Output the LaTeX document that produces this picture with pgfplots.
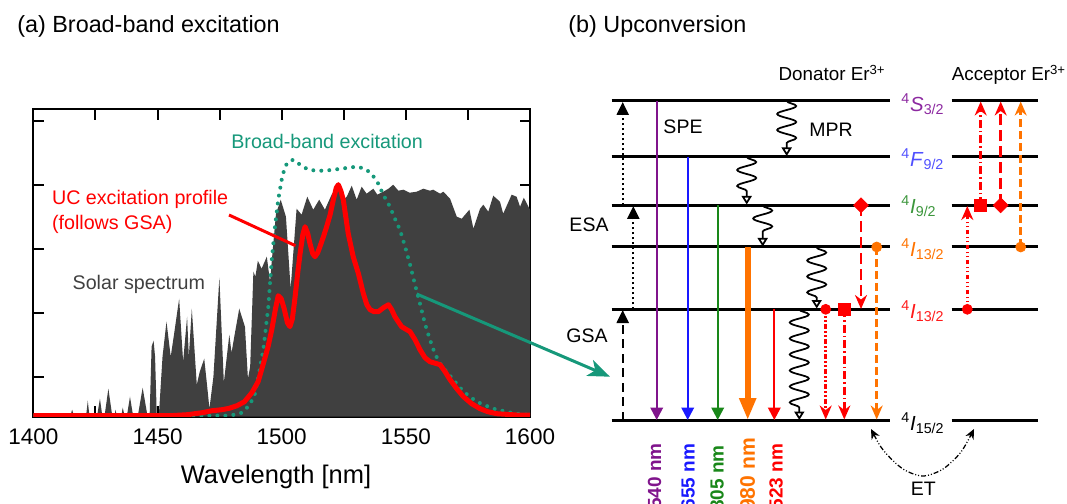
\documentclass[border=0pt]{standalone}
\usepackage{pgfplots}
\pgfplotsset{compat=1.18}
\usepackage{fontspec}
\setmainfont{Liberation Sans}
\usetikzlibrary{arrows.meta,decorations.pathmorphing}

\definecolor{spec}{RGB}{64,64,64}
\definecolor{tealc}{RGB}{22,152,122}
\definecolor{redc}{RGB}{255,0,0}
\definecolor{purpc}{RGB}{128,20,140}
\definecolor{bluec}{RGB}{25,25,255}
\definecolor{greenc}{RGB}{25,135,25}
\definecolor{orangec}{RGB}{255,115,0}
\definecolor{redl}{RGB}{255,25,25}
\definecolor{purpl}{RGB}{140,40,160}
\definecolor{bluel}{RGB}{80,80,255}
\definecolor{greenl}{RGB}{60,150,60}

\newcommand\fs[1]{\fontsize{#1pt}{#1pt}\selectfont}

\begin{document}
\begin{tikzpicture}
\useasboundingbox (0,0) rectangle (213.4mm,100.8mm);

% (a) spectrum panel, y in pixel heights above the baseline
\begin{axis}[
  at={(6.68mm,17.46mm)}, anchor=south west,
  width=99.32mm, height=61.48mm, scale only axis,
  xmin=1400, xmax=1600, ymin=0, ymax=307.4,
  xtick={1400,1425,...,1600},
  xticklabels={1400,,1450,,1500,,1550,,1600},
  ytick={39.4,103.4,167.4,231.4,295.4}, yticklabels={},
  axis line style={line width=0.4mm},
  tick style={line width=0.4mm, black},
  major tick length=2.1mm,
  x tick label style={font=\fs{12.8}, yshift=-1.2mm},
]
\addplot[fill=spec, draw=none] coordinates {
(1400,0) (1414.8,0) (1415.6,7) (1416.4,0) (1421.2,0) (1421.9,16) (1422.6,0)
(1425.6,0) (1426.8,18) (1427.8,0) (1428.6,0) (1430.2,28) (1431.8,0)
(1432.6,0) (1433.1,7) (1433.6,0) (1435.3,0) (1436,9) (1436.8,0)
(1437.6,0) (1438.9,20) (1440.2,0) (1442,0) (1444,29) (1446,0)
(1446.8,0) (1447.6,70) (1448.4,76) (1449,60) (1449.7,0) (1450.5,0)
(1452,60) (1453.6,95) (1455.3,60) (1456.5,80) (1458.7,118) (1460.3,55)
(1461.9,100) (1462.6,60) (1463.8,108) (1465.8,32) (1467,45) (1468.8,58)
(1470,30) (1470.9,8) (1472.5,40) (1474.9,139) (1476.7,34) (1478.9,82)
(1479.8,64) (1480.9,80) (1482.9,108) (1485.2,90) (1486.4,38) (1487.3,50)
(1488.6,145) (1489.4,140) (1490.4,156) (1491.9,148) (1494,160) (1495.3,135)
(1496.5,170) (1497.7,203) (1499.6,217) (1501.7,200) (1503.6,128) (1506,208)
(1508,202) (1510.3,220) (1512.7,207) (1515.1,217) (1517.4,207) (1520.1,222)
(1522.4,230) (1524.8,217) (1526.2,220) (1528.2,231) (1530.2,217) (1532.2,230)
(1534.2,223) (1536.9,228) (1538.5,222) (1540.9,225) (1543,228) (1544.9,232)
(1547,226) (1549,227) (1551.5,224) (1554.4,225) (1557,228) (1559.7,226)
(1561,227) (1563.8,223) (1565.1,225) (1567.8,218) (1570.5,200) (1572.5,198)
(1575.6,207) (1577.2,188) (1579.9,208) (1581.2,212) (1583.2,205) (1585.2,221)
(1587.9,215) (1589.2,203) (1592.6,222) (1594.6,220) (1596,210) (1597.5,219)
(1600,207)} \closedcycle;
% broad-band excitation (dotted)
\addplot[tealc, line width=0.8mm, line cap=round, dash pattern=on 0pt off 1.6mm] coordinates {
(1400,1) (1478,1) (1481,2) (1484,4) (1487.2,12) (1489.2,23) (1490.6,40)
(1492.6,67) (1494.6,110) (1496,157) (1497.3,190) (1498.6,217) (1500,237)
(1501.3,250) (1502.7,255) (1504.7,257) (1507.4,252) (1510.7,247) (1514.1,246)
(1517.4,246) (1520.8,247) (1524.2,248) (1526.8,249) (1530.2,250) (1533.5,248)
(1536.2,243) (1538.9,233) (1540.9,222) (1543.6,210) (1545.6,198) (1547.6,187)
(1549.7,170) (1551.7,152) (1553.7,132) (1555.7,113) (1557.7,93) (1559.7,77)
(1561.7,63) (1563.8,53) (1566.4,45) (1569.1,37) (1573.2,25) (1578.5,15)
(1585.2,8) (1593.3,3.4) (1600,1.7)};
% UC excitation profile
\addplot[redc, line width=1mm, line join=round] coordinates {
(1400,1) (1455,1) (1462,2) (1468,4) (1472,6) (1476,7) (1479,8.5) (1482,11)
(1485,15) (1488,24) (1490.5,35) (1492.6,53) (1494.5,70) (1496,87) (1497.5,108)
(1498.6,121) (1499.8,118) (1501,108) (1502.3,94) (1503.3,90) (1504.3,98)
(1505.4,120) (1506.5,145) (1507.4,163) (1508.5,182) (1509.4,190) (1510.5,183)
(1511.4,173) (1512.5,163) (1513.4,160) (1514.5,164) (1515.4,170) (1516.8,180)
(1518.1,190) (1519.5,202) (1520.8,217) (1522,229) (1522.8,232) (1523.8,226)
(1524.8,217) (1525.8,200) (1526.8,183) (1528.8,160) (1530.9,143) (1532.9,123)
(1534.3,112) (1535.6,107) (1537.2,105) (1538.9,105) (1541,109) (1543,112)
(1544.3,107) (1545.6,100) (1548.3,90) (1551.7,85) (1553.7,77) (1555.7,67)
(1557.7,59) (1559.7,55) (1563.8,52) (1565.8,45) (1567.8,37) (1570.5,28)
(1573.2,20) (1576.5,13) (1579.9,8) (1583,5) (1586.6,3) (1594.6,1.7) (1600,1.5)};
\end{axis}

% overlay in pixel units (y downwards): annotations and panel (b)
\begin{axis}[
  at={(0,0)}, anchor=south west,
  width=213.4mm, height=100.8mm, scale only axis,
  xmin=0, xmax=1067, ymin=0, ymax=504, y dir=reverse,
  hide axis, clip=false,
  lev/.style={black, line width=0.6mm},
  emis/.style={line width=0.45mm, -{Triangle[width=2.5mm,length=2.5mm]}},
  wave/.style={black, line width=0.35mm, decorate,
    decoration={snake, amplitude=1.9mm, segment length=3.2mm, post length=2.2mm},
    -{Triangle[open, width=2mm, length=1.7mm]}},
  et/.style={line width=0.5mm, -{Stealth[width=2.4mm,length=2.8mm]}},
  mk/.style={only marks, mark options={solid}},
]
\node[anchor=west, font=\fs{13.3}, inner sep=0] at (17,26) {(a) Broad-band excitation};
\node[anchor=west, font=\fs{13.3}, inner sep=0] at (568,26) {(b) Upconversion};
\node[anchor=base west, font=\fs{11.2}, text=tealc, inner sep=0] at (231,148.5) {Broad-band excitation};
\node[anchor=base west, font=\fs{11.2}, text=redc, inner sep=0] at (51.7,205) {UC excitation profile};
\node[anchor=base west, font=\fs{11.2}, text=redc, inner sep=0] at (51.7,230) {(follows GSA)};
\node[anchor=base west, font=\fs{11.2}, text=spec, inner sep=0] at (72.3,290) {Solar spectrum};
\node[font=\fs{14.5}] at (276,477) {Wavelength [nm]};
\addplot[redc, line width=0.6mm] coordinates {(229,215) (295.5,245.7)};
\addplot[tealc, line width=0.6mm, -{Stealth[length=4.4mm,width=3.4mm,inset=1.2mm]}] coordinates {(416.7,294) (610,376.7)};

% energy levels
\addplot[lev] coordinates {(611.7,101) (890,101)};
\addplot[lev] coordinates {(611.7,156.7) (890,156.7)};
\addplot[lev] coordinates {(611.7,205.3) (890,205.3)};
\addplot[lev] coordinates {(611.7,247) (890,247)};
\addplot[lev] coordinates {(611.7,309.3) (890,309.3)};
\addplot[lev] coordinates {(611.7,420.7) (890,420.7)};
\addplot[lev] coordinates {(951.7,101) (1038.3,101)};
\addplot[lev] coordinates {(951.7,156.7) (1038.3,156.7)};
\addplot[lev] coordinates {(951.7,205.3) (1038.3,205.3)};
\addplot[lev] coordinates {(951.7,247) (1038.3,247)};
\addplot[lev] coordinates {(951.7,309.3) (1038.3,309.3)};
\addplot[lev] coordinates {(951.7,420.7) (1038.3,420.7)};

% level labels
\node[anchor=west, font=\fs{11.6}, text=purpl, inner sep=0] at (901,104) {\textsuperscript{4}\textit{S}\textsubscript{3/2}};
\node[anchor=west, font=\fs{11.6}, text=bluel, inner sep=0] at (901,159) {\textsuperscript{4}\textit{F}\textsubscript{9/2}};
\node[anchor=west, font=\fs{11.6}, text=greenl, inner sep=0] at (901,206) {\textsuperscript{4}\textit{I}\textsubscript{9/2}};
\node[anchor=west, font=\fs{11.6}, text=orangec, inner sep=0] at (901,249) {\textsuperscript{4}\textit{I}\textsubscript{13/2}};
\node[anchor=west, font=\fs{11.6}, text=redl, inner sep=0] at (901,311) {\textsuperscript{4}\textit{I}\textsubscript{13/2}};
\node[anchor=west, font=\fs{11.6}, text=black, inner sep=0] at (901,423) {\textsuperscript{4}\textit{I}\textsubscript{15/2}};

\node[anchor=base west, font=\fs{10.7}, inner sep=0] at (778.3,81) {Donator Er\textsuperscript{3+}};
\node[anchor=base west, font=\fs{10.7}, inner sep=0] at (951.5,81) {Acceptor Er\textsuperscript{3+}};
\node[font=\fs{11.1}] at (683,127) {SPE};
\node[font=\fs{11.1}] at (831,129.5) {MPR};
\node[font=\fs{11.1}] at (589,225) {ESA};
\node[font=\fs{11.1}] at (587,336) {GSA};
\node[font=\fs{11.1}] at (923.3,488.3) {ET};

% absorption (GSA, ESA)
\addplot[black, line width=0.45mm, dash pattern=on 1.8mm off 1.1mm,
  -{Triangle[width=2.4mm,length=2.6mm]}] coordinates {(622.7,420.7) (622.7,310)};
\addplot[black, line width=0.45mm, dash pattern=on 0.4mm off 0.6mm,
  -{Triangle[width=2.4mm,length=2.6mm]}] coordinates {(633.3,309.3) (633.3,206)};
\addplot[black, line width=0.45mm, dash pattern=on 0.4mm off 0.6mm,
  -{Triangle[width=2.4mm,length=2.6mm]}] coordinates {(622.7,205.3) (622.7,102)};

% radiative emission
\addplot[purpc, emis] coordinates {(656.7,101) (656.7,420)};
\addplot[bluec, emis] coordinates {(687.7,156.7) (687.7,420)};
\addplot[greenc, emis] coordinates {(717.7,205.3) (717.7,420)};
\addplot[orangec, line width=1.2mm, -{Triangle[width=3.2mm,length=4.4mm]}] coordinates {(747.7,247) (747.7,420)};
\addplot[redc, emis] coordinates {(774.3,309.3) (774.3,420)};

% multiphonon relaxation
\addplot[wave] coordinates {(786.7,101) (786.7,156)};
\addplot[wave] coordinates {(746.7,157) (746.7,204.5)};
\addplot[wave] coordinates {(762.7,205.5) (762.7,246.5)};
\addplot[wave] coordinates {(816.7,247.5) (816.7,308.5)};
\addplot[wave] coordinates {(799.3,309.5) (799.3,420)};

% energy transfer, donator side
\addplot[redc, et, dash pattern=on 0.9mm off 0.5mm on 0.3mm off 0.5mm on 0.3mm off 0.5mm] coordinates {(825.7,309.3) (825.7,419.5)};
\addplot[redc, et, dash pattern=on 1.6mm off 0.6mm on 0.3mm off 0.6mm] coordinates {(844.3,309.3) (844.3,419.5)};
\addplot[redc, et, dash pattern=on 2.2mm off 1mm] coordinates {(861,205.3) (861,309)};
\addplot[orangec, et, dash pattern=on 1.6mm off 0.8mm] coordinates {(876.7,247) (876.7,419.5)};
% energy transfer, acceptor side
\addplot[redc, et, dash pattern=on 0.9mm off 0.5mm on 0.3mm off 0.5mm on 0.3mm off 0.5mm] coordinates {(967.3,309.3) (967.3,206)};
\addplot[redc, et, dash pattern=on 1.6mm off 0.6mm on 0.3mm off 0.6mm] coordinates {(980.7,205.3) (980.7,101.5)};
\addplot[redc, et, dash pattern=on 2.2mm off 1mm] coordinates {(1000.7,205.3) (1000.7,101.5)};
\addplot[orangec, et, dash pattern=on 1.6mm off 0.8mm] coordinates {(1020.7,247) (1020.7,101.5)};

% markers
\addplot[mk, redc, mark=*, mark size=1mm] coordinates {(825.7,309.3) (967.3,309.3)};
\addplot[mk, orangec, mark=*, mark size=1mm] coordinates {(876.7,247) (1020.7,247)};
\addplot[mk, redc, mark=square*, mark size=1.2mm] coordinates {(844.3,309.3) (980.7,205.3)};
\addplot[mk, redc, mark=square*, mark size=1.05mm, mark options={rotate=45}] coordinates {(861,205.3) (1000.7,205.3)};

% ET between ions
\addplot[black, line width=0.25mm, smooth, dash pattern=on 1mm off 0.4mm on 0.2mm off 0.4mm on 0.2mm off 0.4mm,
  {Stealth[width=1.8mm,length=2mm]}-{Stealth[width=1.8mm,length=2mm]}] coordinates {
  (871,429) (884,451) (903,469) (923,476) (943,469) (961,452) (974,429)};

% emission wavelengths
\node[rotate=90, anchor=east, font=\fs{10.8}\bfseries, text=purpc] at (654.5,437) {540 nm};
\node[rotate=90, anchor=east, font=\fs{10.8}\bfseries, text=bluec] at (688,437.5) {655 nm};
\node[rotate=90, anchor=east, font=\fs{10.8}\bfseries, text=greenc] at (717,439) {805 nm};
\node[rotate=90, anchor=east, font=\fs{12}\bfseries, text=orangec] at (747.5,432) {980 nm};
\node[rotate=90, anchor=east, font=\fs{10.8}\bfseries, text=redc] at (776,437.5) {523 nm};
\end{axis}
\end{tikzpicture}
\end{document}
